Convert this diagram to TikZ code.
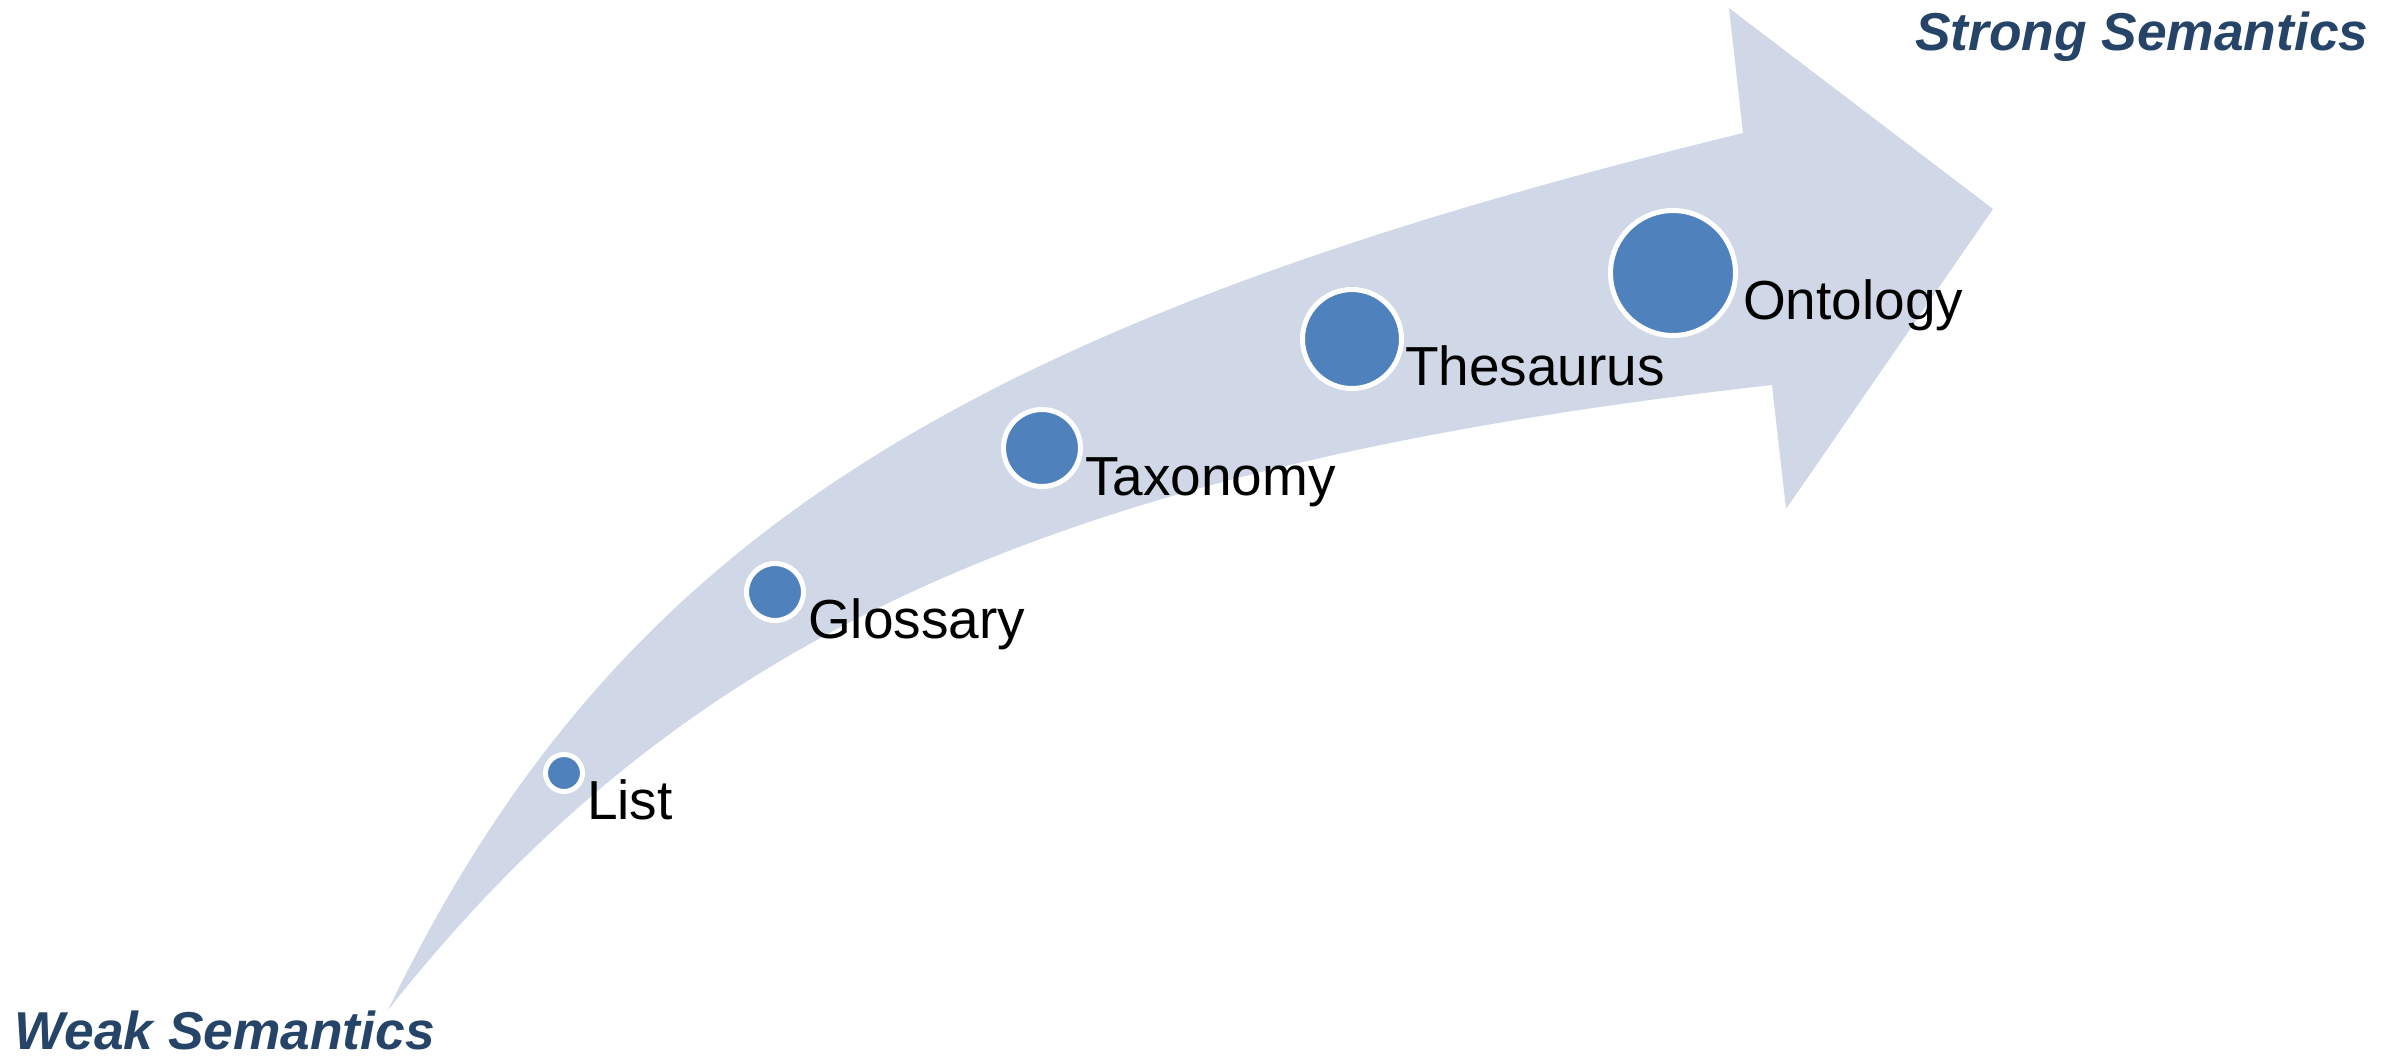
\documentclass[tikz,border=0pt]{standalone}
\usepackage{fontspec}
\setmainfont{Liberation Sans}
\definecolor{arrowfill}{HTML}{D0D8E8}
\definecolor{dotblue}{HTML}{4F81BD}
\definecolor{semblue}{HTML}{254468}
\begin{document}
\begin{tikzpicture}[x=0.3pt,y=-0.3pt,
  dot/.style={circle, fill=dotblue, draw=white, line width=1.5pt, inner sep=0pt, outer sep=0pt},
  lbl/.style={anchor=base west, inner sep=0pt, outer sep=0pt, font=\fontsize{16.5pt}{19pt}\selectfont},
  sem/.style={anchor=base west, inner sep=0pt, outer sep=0pt, text=semblue, font=\fontsize{16pt}{19pt}\selectfont\bfseries\itshape}]
\useasboundingbox (0,0) rectangle (2402,1058);
% curved arrow
\coordinate (tail) at (388,1010);
\coordinate (hbu) at (1743,133);
\coordinate (hbl) at (1772,385);
\coordinate (htop) at (1729,8);
\coordinate (htip) at (1993,209);
\coordinate (hbot) at (1786,509);
\fill[arrowfill]
  (tail) .. controls (613,545) and (952,326) .. (hbu)
  -- (htop) -- (htip) -- (hbot) -- (hbl)
  .. controls (1058,465) and (685,634) .. (tail) -- cycle;
% dots
\node[dot, minimum size=11.1pt] (dlist) at (564,773) {};
\node[dot, minimum size=17.1pt] (dgloss) at (775,592) {};
\node[dot, minimum size=23.1pt] (dtax) at (1042,448) {};
\node[dot, minimum size=29.7pt] (dthes) at (1352,339) {};
\node[dot, minimum size=37.5pt] (dont) at (1673,273) {};
% labels
\node[lbl] (llist) at (587,819) {List};
\node[lbl] (lgloss) at (808,638) {Glossary};
\node[lbl] (ltax) at (1085,495) {Taxonomy};
\node[lbl] (lthes) at (1405,385) {Thesaurus};
\node[lbl] (lont) at (1743,319) {Ontology};
% end captions
\node[sem] (strong) at (1915,50) {Strong Semantics};
\node[sem] (weak) at (15,1049) {Weak Semantics};
\end{tikzpicture}
\end{document}
